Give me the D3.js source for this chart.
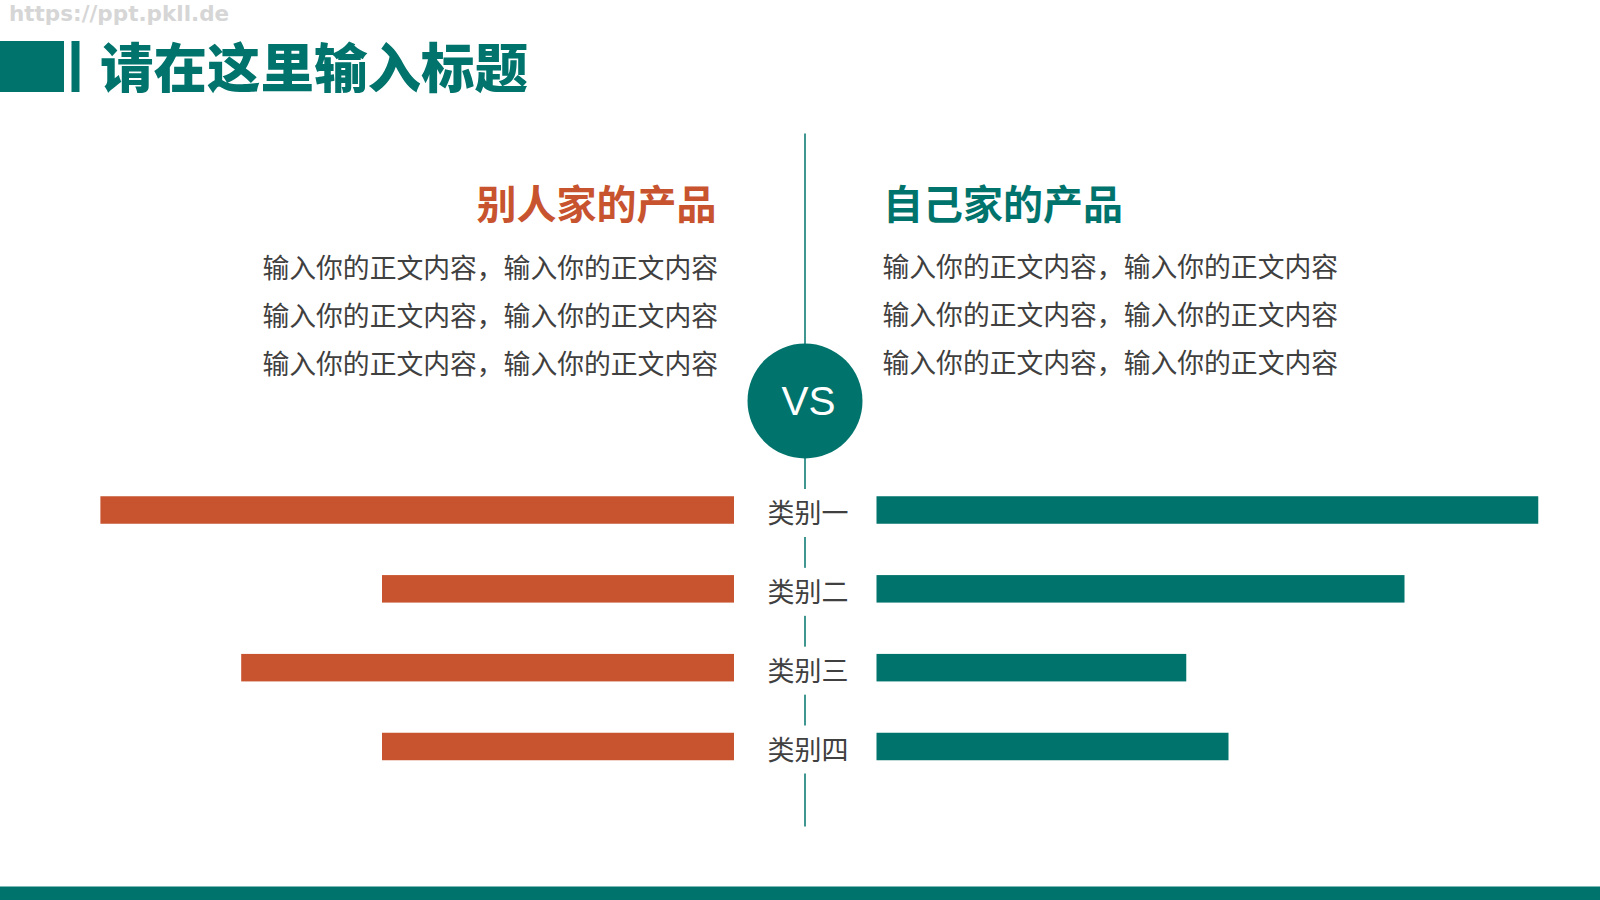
<!DOCTYPE html>
<html>
<head>
<meta charset="utf-8">
<script src="https://cdn.jsdelivr.net/npm/d3@7"></script>
<style>
	body { margin: 0; background: #fff; }
	svg { display: block; }
</style>
</head>
<body>
<svg class="chart"></svg>
<script>
var categorias = ["类别一", "类别二", "类别三", "类别四"];
var valores_outros = [90, 50, 70, 50];
var valores_nossos = [94, 75, 44, 50];

var titulo = "请在这里输入标题";
var titulo_outros = "别人家的产品";
var titulo_nossos = "自己家的产品";
var linhas_outros = ["输入你的正文内容，输入你的正文内容", "输入你的正文内容，输入你的正文内容", "输入你的正文内容，输入你的正文内容"];
var linhas_nossos = ["输入你的正文内容，输入你的正文内容", "输入你的正文内容，输入你的正文内容", "输入你的正文内容，输入你的正文内容"];

var width = 1600;
var height = 900;
var laranja = "#c8532f";
var verde = "#00746c";
var fonte = "'Noto Sans CJK SC', 'Noto Sans', sans-serif";

var centro = 805;
var esq_fim = 734;
var dir_ini = 876.5;
var bar_h = 27.5;

var x = d3.scaleLinear()
			.domain([0, 100])
			.range([0, 704]);

var y = d3.scalePoint()
			.domain(categorias)
			.range([510, 746.5]);

var chart = d3.select(".chart")
			.attr("width", width)
			.attr("height", height);

// marca d'agua
chart.append("text")
	.attr("x", 9)
	.attr("y", 21)
	.style("font-family", "'DejaVu Sans', sans-serif")
	.style("font-weight", "bold")
	.style("font-size", "21.5px")
	.style("fill", "#d6d6d6")
	.text("https://ppt.pkll.de");

// cabecalho
chart.append("rect")
	.attr("x", 0).attr("y", 41)
	.attr("width", 64).attr("height", 51)
	.attr("fill", verde);

chart.append("rect")
	.attr("x", 71.5).attr("y", 41)
	.attr("width", 8).attr("height", 51)
	.attr("fill", verde);

chart.append("text")
	.attr("x", 100)
	.attr("y", 88)
	.style("font-family", fonte)
	.style("font-weight", 900)
	.style("font-size", "53.5px")
	.style("fill", verde)
	.text(titulo);

// rodape
chart.append("rect")
	.attr("x", 0).attr("y", 886.5)
	.attr("width", width).attr("height", height - 886.5)
	.attr("fill", verde);

// linha central
chart.append("line")
	.attr("x1", centro).attr("x2", centro)
	.attr("y1", 133.5).attr("y2", 826.5)
	.attr("stroke", verde)
	.attr("stroke-width", 1.5);

// titulos dos lados
chart.append("text")
	.attr("x", 716.5)
	.attr("y", 219)
	.attr("text-anchor", "end")
	.style("font-family", fonte)
	.style("font-weight", "bold")
	.style("font-size", "40px")
	.style("fill", laranja)
	.text(titulo_outros);

chart.append("text")
	.attr("x", 883)
	.attr("y", 219)
	.style("font-family", fonte)
	.style("font-weight", "bold")
	.style("font-size", "40px")
	.style("fill", verde)
	.text(titulo_nossos);

chart.append("g")
	.selectAll("text")
	.data(linhas_outros)
	.enter().append("text")
	.attr("x", 718)
	.attr("y", function(d, i) { return 277.5 + i * 48; })
	.attr("text-anchor", "end")
	.style("font-family", fonte)
	.style("font-size", "26.8px")
	.style("fill", "#404040")
	.text(function(d) { return d; });

chart.append("g")
	.selectAll("text")
	.data(linhas_nossos)
	.enter().append("text")
	.attr("x", 882.5)
	.attr("y", function(d, i) { return 276.5 + i * 48; })
	.style("font-family", fonte)
	.style("font-size", "26.8px")
	.style("fill", "#404040")
	.text(function(d) { return d; });

// circulo VS
chart.append("circle")
	.attr("cx", centro)
	.attr("cy", 401)
	.attr("r", 57.5)
	.attr("fill", verde);

chart.append("text")
	.attr("x", 808.5)
	.attr("y", 415)
	.attr("text-anchor", "middle")
	.style("font-family", "'Liberation Sans', Arial, sans-serif")
	.style("font-size", "40.5px")
	.style("fill", "#fff")
	.text("VS");

// barras
chart.append("g")
	.selectAll("rect")
	.data(valores_outros)
	.enter().append("rect")
	.attr("x", function(d) { return esq_fim - x(d); })
	.attr("y", function(d, i) { return y(categorias[i]) - bar_h / 2; })
	.attr("width", function(d) { return x(d); })
	.attr("height", bar_h)
	.attr("fill", laranja);

chart.append("g")
	.selectAll("rect")
	.data(valores_nossos)
	.enter().append("rect")
	.attr("x", dir_ini)
	.attr("y", function(d, i) { return y(categorias[i]) - bar_h / 2; })
	.attr("width", function(d) { return x(d); })
	.attr("height", bar_h)
	.attr("fill", verde);

// rotulos das categorias, com fundo branco cortando a linha
var rotulos = chart.append("g")
	.selectAll("g")
	.data(categorias)
	.enter().append("g")
	.attr("transform", function(d) { return "translate(" + centro + "," + (y(d) + 3) + ")"; });

rotulos.append("rect")
	.attr("x", -44)
	.attr("y", -24)
	.attr("width", 88)
	.attr("height", 48)
	.attr("fill", "#fff");

rotulos.append("text")
	.attr("x", 3)
	.attr("y", 10)
	.attr("text-anchor", "middle")
	.style("font-family", fonte)
	.style("font-size", "27px")
	.style("fill", "#404040")
	.text(function(d) { return d; });
</script>
</body>
</html>
